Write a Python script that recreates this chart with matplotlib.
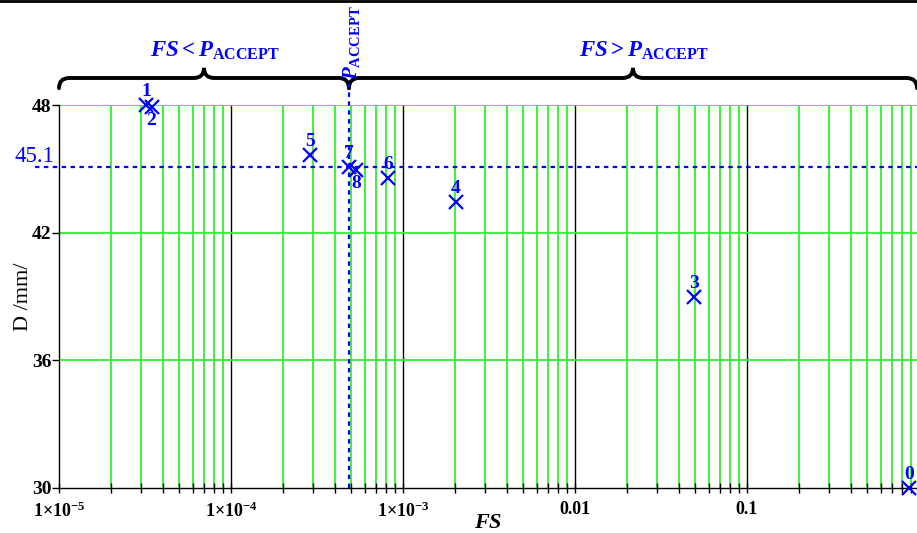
import numpy as np
import matplotlib.pyplot as plt
from matplotlib.path import Path
from matplotlib.patches import PathPatch
from matplotlib.ticker import FixedLocator, NullFormatter

plt.rcParams['font.family'] = ['Liberation Serif', 'DejaVu Serif']
plt.rcParams['mathtext.fontset'] = 'custom'
plt.rcParams['mathtext.rm'] = 'Liberation Serif:bold'
plt.rcParams['mathtext.bf'] = 'Liberation Serif:bold'
plt.rcParams['mathtext.it'] = 'Liberation Serif:italic:bold'

# measured points (label, FS, D)
labels = ['0', '1', '2', '3', '4', '5', '6', '7', '8']
fs = [0.875, 3.2e-5, 3.45e-5, 0.0492, 2.03e-3, 2.88e-4, 8.18e-4, 4.85e-4, 5.33e-4]
diam = [30.0, 48.0, 47.9, 39.0, 43.45, 45.66, 44.58, 45.09, 44.95]
label_side = ['up', 'up', 'down', 'up', 'up', 'up', 'up', 'up', 'down']

p_accept = 4.85e-4
d_accept = 45.1
y_ticks = [30, 36, 42, 48]
x_ticks = [1e-5, 1e-4, 1e-3, 1e-2, 1e-1]
x_ticklabels = [r'$1{\times}10^{-5}$', r'$1{\times}10^{-4}$', r'$1{\times}10^{-3}$', '0.01', '0.1']

BLUE = '#0000ff'
GREEN = '#33ee33'

fig = plt.figure(figsize=(9.17, 5.33), dpi=100)
ax = fig.add_axes([59 / 917, 45 / 533, 858 / 917, 383 / 533])

xmin, xmax = 1e-5, 0.974
ax.set_xscale('log')
ax.set_xlim(xmin, xmax)
ax.set_ylim(30, 48)

# grid
minor = [m * 10.0 ** e for e in range(-5, 0) for m in range(2, 10)]
for v in minor:
    ax.axvline(v, color=GREEN, lw=1.3, zorder=1)
for v in x_ticks[1:]:
    ax.axvline(v, color='black', lw=1.0, zorder=1)
for v in y_ticks[1:]:
    ax.axhline(v, color=GREEN, lw=1.3, zorder=1)

for s in ['top', 'right']:
    ax.spines[s].set_visible(False)
ax.spines['left'].set_linewidth(1.0)
ax.spines['bottom'].set_linewidth(1.0)

ax.xaxis.set_major_locator(FixedLocator(x_ticks))
ax.set_xticklabels(x_ticklabels)
ax.xaxis.set_minor_locator(FixedLocator(minor))
ax.xaxis.set_minor_formatter(NullFormatter())
ax.tick_params(axis='x', which='both', direction='inout', length=7, width=1)
ax.tick_params(axis='x', labelsize=13, pad=6)
ax.set_yticks(y_ticks)
ax.tick_params(axis='y', direction='out', length=5, width=1, labelsize=14, pad=0.5)
for t in ax.get_yticklabels() + ax.get_xticklabels():
    t.set_fontweight('bold')

ax.set_ylabel('D /mm/', fontsize=16, labelpad=-1)
ax.set_xlabel(r'$FS$', fontsize=16, labelpad=-5)

# acceptance lines
ax.axhline(d_accept, xmin=-0.028, color=BLUE, ls=(0, (2, 2)), lw=1.6, clip_on=False, zorder=3)
ax.text(-0.005, d_accept + 0.2, '45.1', transform=ax.get_yaxis_transform(),
        ha='right', va='baseline', color=BLUE, fontsize=16.5)
ax.axvline(p_accept, ymax=1.06, color=BLUE, ls=(0, (2, 2)), lw=1.6, clip_on=False, zorder=3)

# points
ax.plot(fs, diam, 'x', color=BLUE, ms=10.5, mew=1.6, clip_on=False, zorder=4)
for lab, x, y, side in zip(labels, fs, diam, label_side):
    dy = 9.5 if side == 'up' else -9.5
    ax.annotate(lab, (x, y), xytext=(0, dy), textcoords='offset points',
                ha='center', va='center', color=BLUE, fontsize=14,
                fontweight='bold', annotation_clip=False)


# curly braces over the two regions
def frac(v):
    return (np.log10(v) - np.log10(xmin)) / (np.log10(xmax) - np.log10(xmin))


def brace(x0, x1, xm, y_line=1.0705, y_end=1.044, y_tip=1.097, r=0.012):
    verts = [(x0, y_end), (x0, y_line), (x0 + r, y_line),
             (xm - r, y_line), (xm, y_line), (xm, y_tip),
             (xm, y_line), (xm + r, y_line),
             (x1 - r, y_line), (x1, y_line), (x1, y_end)]
    codes = [Path.MOVETO, Path.CURVE3, Path.CURVE3,
             Path.LINETO, Path.CURVE3, Path.CURVE3,
             Path.CURVE3, Path.CURVE3,
             Path.LINETO, Path.CURVE3, Path.CURVE3]
    ax.add_patch(PathPatch(Path(verts, codes), transform=ax.transAxes, fill=False,
                           lw=2.8, color='black', clip_on=False, capstyle='round'))


pa = frac(p_accept)
brace(0.0, pa, pa / 2)
brace(pa, 1.0, pa + (1.0 - pa) / 2)

ax.text(pa / 2 + 0.013, 1.112, r'$FS < P_{\mathrm{ACCEPT}}$', transform=ax.transAxes,
        ha='center', va='bottom', color=BLUE, fontsize=16.5)
ax.text(pa + (1.0 - pa) / 2 + 0.013, 1.112, r'$FS > P_{\mathrm{ACCEPT}}$', transform=ax.transAxes,
        ha='center', va='bottom', color=BLUE, fontsize=16.5)
ax.text(pa + 0.003, 1.066, r'$P_{\mathrm{ACCEPT}}$', transform=ax.transAxes, rotation=90,
        ha='center', va='bottom', color=BLUE, fontsize=15)

# border line at top of the picture
fig.add_artist(plt.Line2D([0, 1], [0.998, 0.998], color='black', lw=2, transform=fig.transFigure))

fig.savefig('out.png', dpi=100)
